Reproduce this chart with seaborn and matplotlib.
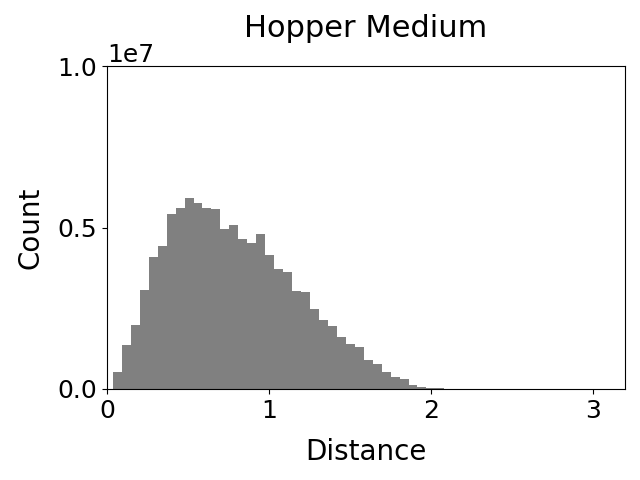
import numpy as np
import pandas as pd
import matplotlib
matplotlib.use("Agg")
import matplotlib.pyplot as plt
import seaborn as sns

# ========================
# DATA
# ========================
bin_start = 0.037
bin_width = 0.0553
# bar heights in units of 1e7
counts = [0.051, 0.135, 0.199, 0.305, 0.408, 0.442, 0.542, 0.560, 0.591, 0.576,
          0.560, 0.557, 0.495, 0.507, 0.464, 0.452, 0.480, 0.414, 0.371, 0.361,
          0.302, 0.299, 0.246, 0.212, 0.196, 0.162, 0.140, 0.131, 0.090, 0.078,
          0.053, 0.037, 0.031, 0.012, 0.006, 0.003, 0.001]

edges = (bin_start + bin_width * np.arange(len(counts) + 1)).tolist()
df = pd.DataFrame({
    "distance": [(a + b) / 2 for a, b in zip(edges[:-1], edges[1:])],
    "count": np.array(counts) * 1e7,
})

# ========================
# PLOT
# ========================
fig, ax = plt.subplots(figsize=(6.4, 4.8), dpi=100)
fig.subplots_adjust(left=0.167, right=0.977, top=0.862, bottom=0.19)

sns.histplot(data=df, x="distance", weights="count", bins=edges,
             color="gray", alpha=1, linewidth=0, ax=ax)

ax.set_xlim(0, 3.2)
ax.set_ylim(0, 1e7)
ax.set_xticks([0, 1, 2, 3])
ax.set_yticks([0, 0.5e7, 1e7])
ax.tick_params(labelsize=18)
ax.yaxis.get_offset_text().set_fontsize(18)
ax.set_xlabel("Distance", fontsize=20, labelpad=11)
ax.set_ylabel("Count", fontsize=20, labelpad=9)
ax.set_title("Hopper Medium", fontsize=22, pad=21)

fig.savefig("out.png")
